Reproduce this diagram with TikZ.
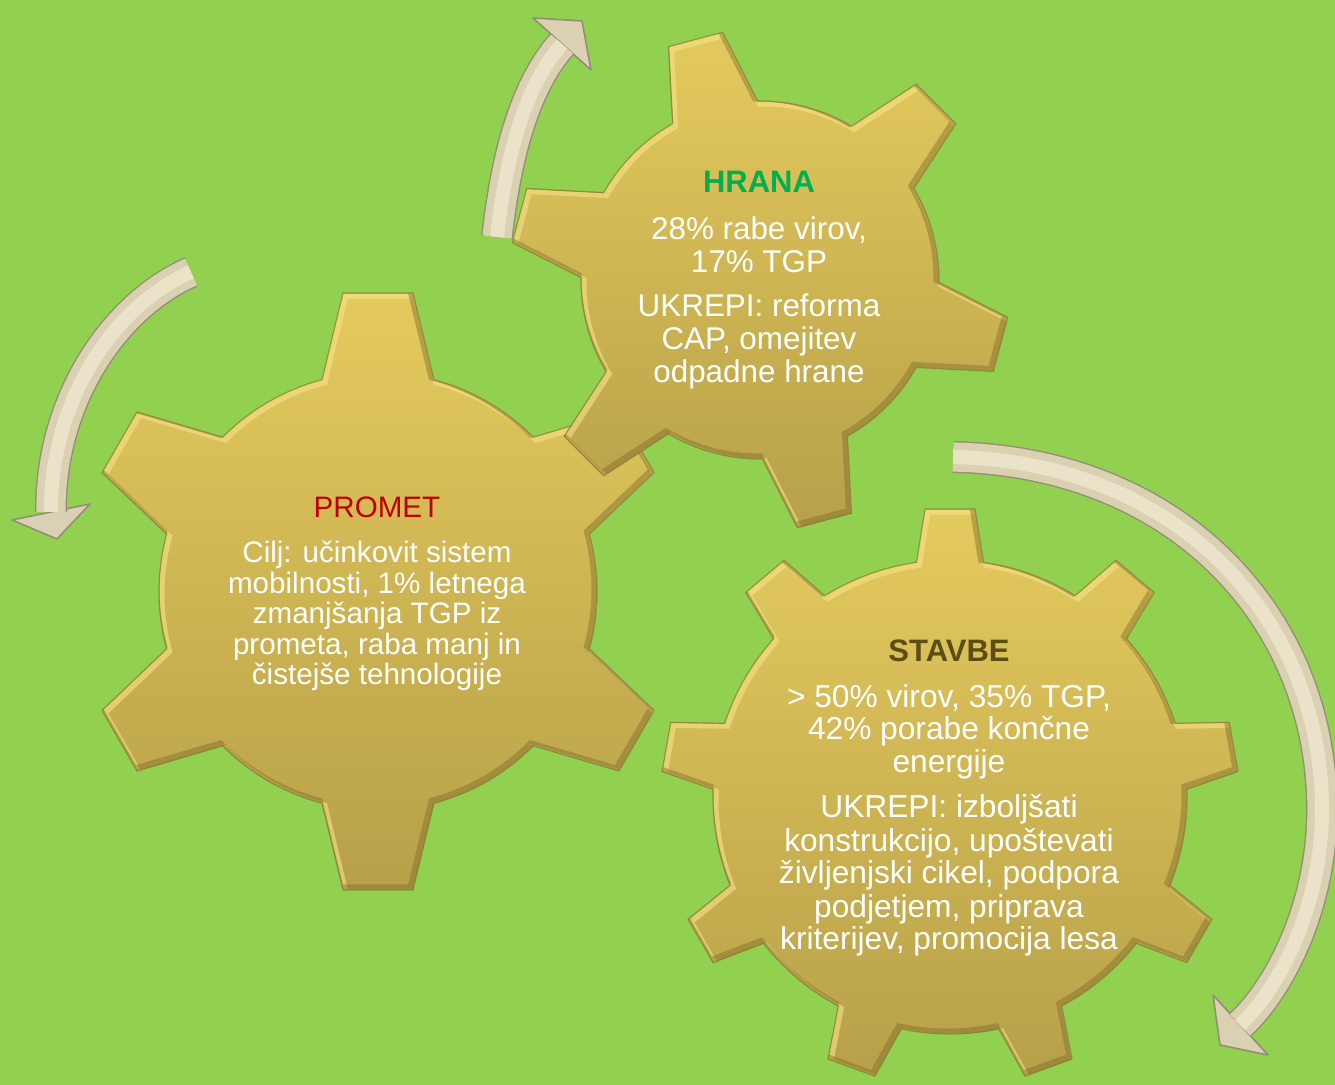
\documentclass[tikz,border=0pt]{standalone}
\usepackage{fontspec}
\setmainfont{Liberation Sans}
\definecolor{bg}{HTML}{92D050}
\definecolor{gtop}{HTML}{E4CA5D}
\definecolor{gbot}{HTML}{B7A049}
\definecolor{gedge}{HTML}{7F6E2A}
\definecolor{ghi}{HTML}{F6E387}
\definecolor{arrowmain}{HTML}{DAD0B2}
\definecolor{arrowedge}{HTML}{968D76}
\definecolor{arrowhi}{HTML}{EAE2C9}
\definecolor{promred}{HTML}{C00000}
\definecolor{hranagreen}{HTML}{00B050}
\definecolor{stavbecol}{HTML}{5C4D15}

% Rb Rt n offset tiphalf basehalf
\newcommand\setgear[6]{%
  \def\gRb{#1}\def\goff{#4}%
  \pgfmathsetmacro\gstep{360/#3}%
  \pgfmathsetmacro\galpha{asin(#6/#1)}%
  \pgfmathsetmacro\gbeta{atan(#5/#2)}%
  \pgfmathsetmacro\gRt{#2/cos(\gbeta)}%
  \pgfmathtruncatemacro\glast{#3-1}%
  \pgfmathsetmacro\gstart{#4-\galpha}%
}
\newcommand\gearoutline{(\gstart:\gRb)
  \foreach \k [evaluate=\k as \ang using \goff+\k*\gstep] in {0,...,\glast}{
    -- (\ang-\gbeta:\gRt) -- (\ang+\gbeta:\gRt) -- (\ang+\galpha:\gRb)
    arc[start angle=\ang+\galpha, end angle=\ang+\gstep-\galpha, radius=\gRb]
  } -- cycle}
% name cx cy Rb Rt n offset tiphalf basehalf
\newcommand\drawgear[9]{%
  \begin{scope}[shift={(#2,#3)}]
    \setgear{#4}{#5}{#6}{#7}{#8}{#9}
    \shade[top color=gtop, bottom color=gbot] \gearoutline;
    \begin{scope}
      \clip \gearoutline;
      \draw[ghi, opacity=.6, line width=3pt, shift={(2.5,2.5)}] \gearoutline;
      \draw[gedge, opacity=.45, line width=3pt, shift={(-2.5,-2.5)}] \gearoutline;
    \end{scope}
    \draw[gedge, opacity=.6, line width=.6pt] \gearoutline;
    \coordinate (#1) at (0,0);
  \end{scope}}

\newcommand\arrowshaft[1]{%
  \draw[line width=16pt, arrowedge] #1;
  \draw[line width=14.6pt, arrowmain] #1;
  \draw[line width=7pt, arrowhi] #1;}
\newcommand\arrowhead[3]{%
  \filldraw[fill=arrowmain, draw=arrowedge, line width=.8pt, line join=round] (#1) -- (#2) -- (#3) -- cycle;}

\tikzset{
  ptext/.style={anchor=base, inner sep=0pt, text=white, font=\fontsize{14.8}{18}\selectfont},
  htext/.style={anchor=base, inner sep=0pt, text=white, font=\fontsize{15.7}{18}\selectfont},
  stext/.style={anchor=base, inner sep=0pt, text=white, font=\fontsize{15.85}{18}\selectfont},
}

\begin{document}
\begin{tikzpicture}[x=0.5pt, y=-0.5pt]
\useasboundingbox (0,0) rectangle (1335,1085);
\clip (0,0) rectangle (1335,1085);
\fill[bg] (0,0) rectangle (1335,1085);

% gears
\drawgear{promet}{378}{591.5}{219}{298.5}{6}{-90}{35}{56}
\drawgear{hrana}{760}{280}{179}{249}{6}{15}{28}{44}
\drawgear{stavbe}{950}{797}{237}{288}{9}{-90}{25}{33.5}

% arrow 1 (top)
\coordinate (a1s) at (497,237);
\coordinate (a1e) at (562,44);
\coordinate (a1l) at (533,18);
\coordinate (a1t) at (582,21);
\coordinate (a1r) at (591,70);
\arrowhead{a1l}{a1t}{a1r}
\arrowshaft{(a1s) .. controls (505,165) and (522,89) .. (a1e)}

% arrow 2 (left)
\coordinate (a2s) at (191,272);
\coordinate (a2e) at (51,512);
\coordinate (a2l) at (90,504);
\coordinate (a2t) at (57,539);
\coordinate (a2r) at (12,520);
\arrowhead{a2l}{a2t}{a2r}
\arrowshaft{(a2s) .. controls (115,305) and (50,400) .. (a2e)}

% arrow 3 (right)
\coordinate (a3s) at (953,457);
\coordinate (a3m) at (1322,810);
\coordinate (a3e) at (1240,1025);
\coordinate (a3l) at (1268,1055);
\coordinate (a3t) at (1220,1045);
\coordinate (a3r) at (1213,995);
\arrowhead{a3l}{a3t}{a3r}
\arrowshaft{(a3s) .. controls (1180,462) and (1322,620) .. (a3m) .. controls (1322,905) and (1280,988) .. (a3e)}

% PROMET text
\node[ptext, text=promred] (ptitle) at (377,518) {PROMET};
\foreach \t [count=\i] in {{Cilj: učinkovit sistem},{mobilnosti, 1\% letnega},{zmanjšanja TGP iz},{prometa, raba manj in},{čistejše tehnologije}}
  \node[ptext] (p\i) at (377,{563+(\i-1)*30.5}) {\t};

% HRANA text
\node[htext, text=hranagreen, font=\bfseries\fontsize{15.5}{18}\selectfont] (htitle) at (759,193) {HRANA};
\node[htext] (h1) at (759,240) {28\% rabe virov,};
\node[htext] (h2) at (759,272.5) {17\% TGP};
\node[htext] (h3) at (759,317) {UKREPI: reforma};
\node[htext] (h4) at (759,350) {CAP, omejitev};
\node[htext] (h5) at (759,383) {odpadne hrane};

% STAVBE text
\node[stext, text=stavbecol, font=\bfseries\fontsize{15.5}{18}\selectfont] (stitle) at (949,662) {STAVBE};
\node[stext] (s1) at (949,708) {> 50\% virov, 35\% TGP,};
\node[stext] (s2) at (949,740) {42\% porabe končne};
\node[stext] (s3) at (949,773) {energije};
\node[stext] (s4) at (949,818) {UKREPI: izboljšati};
\node[stext] (s5) at (949,851) {konstrukcijo, upoštevati};
\node[stext] (s6) at (949,884) {življenjski cikel, podpora};
\node[stext] (s7) at (949,917) {podjetjem, priprava};
\node[stext] (s8) at (949,950) {kriterijev, promocija lesa};
\end{tikzpicture}
\end{document}
